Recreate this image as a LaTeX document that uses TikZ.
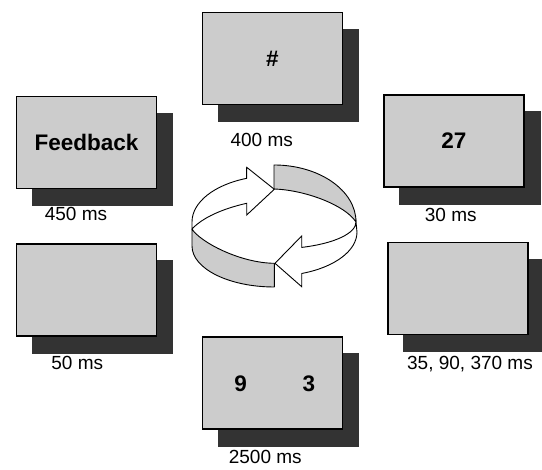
\documentclass[tikz,border=0pt]{standalone}
\usepackage{fontspec}
\setmainfont{Liberation Sans}
\definecolor{boxgray}{HTML}{CCCCCC}
\definecolor{shadowgray}{HTML}{333333}
\pgfdeclarelayer{bg}
\pgfsetlayers{bg,main}
\begin{document}
\begin{tikzpicture}[x=1pt,y=1pt,
  screen/.style={draw=black, line width=1.2pt, fill=boxgray, minimum width=140pt, minimum height=92pt, inner sep=0pt, font=\fontsize{22.5}{26}\selectfont\bfseries},
  bigtext/.style={inner sep=0pt, font=\fontsize{22.5}{26}\selectfont\bfseries},
  timelabel/.style={font=\fontsize{19}{22}\selectfont, anchor=base, inner sep=0pt},
  shadowbox/.style={fill=shadowgray, draw=none},
  arrowface/.style={draw=black, line width=0.9pt, fill=white, line join=miter},
  bandface/.style={draw=black, line width=0.9pt, fill=boxgray, line join=round}]
\useasboundingbox (0,0) rectangle (542,470);

% screens
\node[screen] (hash) at (272.5,411.5) {\#};
\node[screen] (feedback) at (86.5,327.5) {Feedback};
\node[screen] (num) at (454,329) {27};
\node[screen] (blankL) at (86.5,180) {};
\node[screen] (blankR) at (458,181.5) {};
\node[screen] (probe) at (272.5,87) {};
\node[bigtext] (nine) at (240.7,86.7) {9};
\node[bigtext] (three) at (309,86.7) {3};

% shadows
\begin{pgfonlayer}{bg}
\foreach \n in {hash,feedback,num,blankL,blankR,probe}{
  \fill[shadowbox] ([shift={(16,-17)}]\n.south west) rectangle ([shift={(16,-17)}]\n.north east);
}
\end{pgfonlayer}

% durations
\node[timelabel] (t400) at (261.7,323.3) {400 ms};
\node[timelabel] (t450) at (76,249.3) {450 ms};
\node[timelabel] (t30) at (450.8,248.3) {30 ms};
\node[timelabel] (t50) at (77.3,100) {50 ms};
\node[timelabel] (t35) at (470,100.7) {35, 90, 370 ms};
\node[timelabel] (t2500) at (265.3,6) {2500 ms};

% cycle symbol
\draw[bandface] (192,241) .. controls (200,228) and (240,207) .. (274.3,206.7)
  -- (274.3,183) arc[start angle=270, end angle=180, x radius=82.3, y radius=41] -- cycle;
\draw[bandface] (274,281) -- (274,305) arc[start angle=90, end angle=0, x radius=82, y radius=57]
  .. controls (345,265) and (305,280) .. (274,281) -- cycle;
\draw[arrowface] (192,241) -- (192,248)
  arc[start angle=180, end angle=109.5, x radius=82, y radius=46.3]
  -- (246.7,302.7) -- (274.3,280.7) -- (246.7,255) -- (246.7,266.7)
  .. controls (230,263) and (205,255) .. (192,241) -- cycle;
\draw[arrowface] (356,248) arc[start angle=0, end angle=-70.2, x radius=82, y radius=27]
  -- (301.7,234) -- (275,206.7) -- (301.7,183.3) -- (301.7,196.5)
  arc[start angle=-70.5, end angle=0, x radius=83, y radius=44] -- cycle;
\end{tikzpicture}
\end{document}
